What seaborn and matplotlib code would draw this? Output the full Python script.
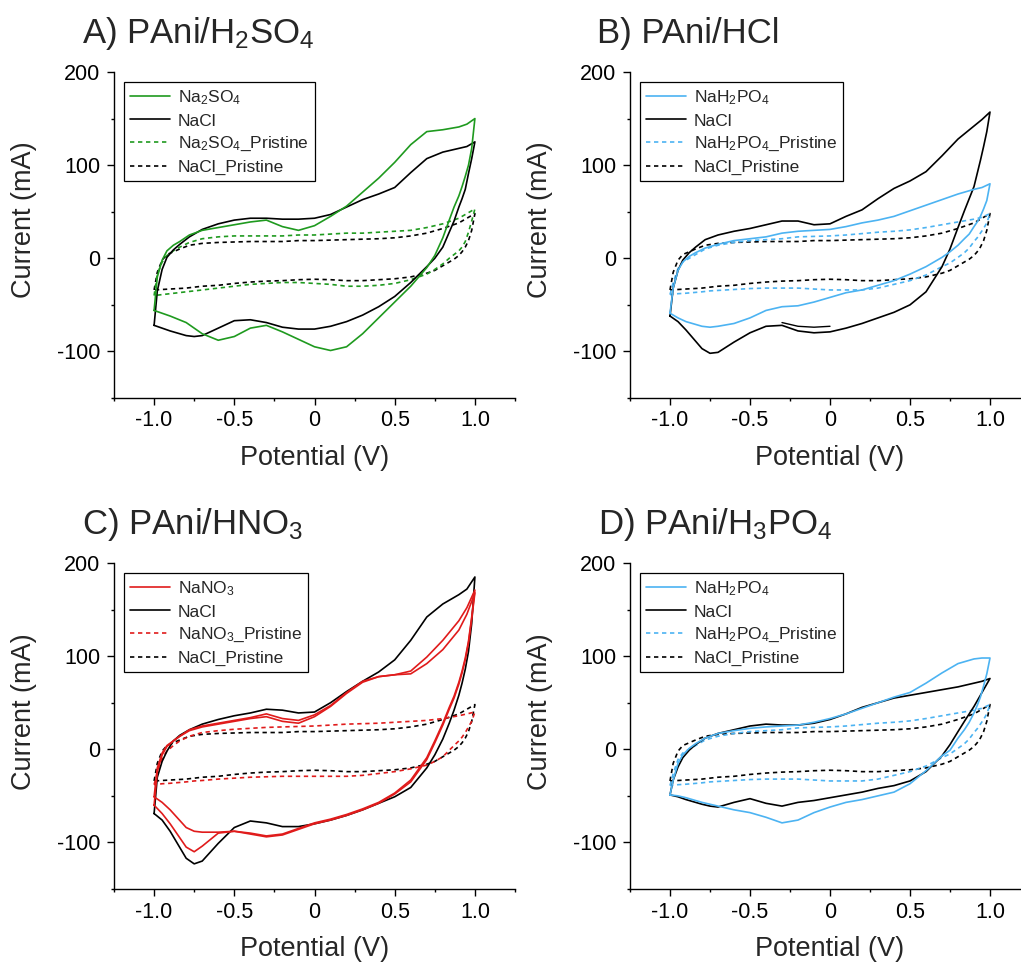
import numpy as np
import pandas as pd
import matplotlib
matplotlib.use("Agg")
import matplotlib.pyplot as plt
import seaborn as sns
from matplotlib.lines import Line2D

# ---------------- data (potential grids, V) ----------------
GRID_UP = [-1.0, -0.98, -0.95, -0.92, -0.88, -0.84, -0.78, -0.7, -0.6, -0.5, -0.4, -0.3, -0.2,
           -0.1, 0.0, 0.1, 0.2, 0.3, 0.4, 0.5, 0.6, 0.7, 0.8, 0.9, 0.95, 1.0]
GRID_DN = [1.0, 0.98, 0.96, 0.94, 0.92, 0.9, 0.87, 0.84, 0.8, 0.75, 0.7, 0.6, 0.5, 0.4, 0.3, 0.2,
           0.1, 0.0, -0.1, -0.2, -0.3, -0.4, -0.5, -0.6, -0.7, -0.75, -0.8, -0.9, -0.95, -1.0]

# shared NaCl pristine (mA)
NACL_PRIST_UP = [-34, -15, -2, 4, 7, 10, 14, 16, 17, 17.5, 18, 18, 18, 19, 19, 19.5, 20, 20.5, 21,
                 22, 24, 27, 32, 38, 43, 48]
NACL_PRIST_DN = [48, 30, 19, 12, 7, 3, -1, -4, -8, -13, -16, -20, -22, -23, -24, -24, -23, -22.5,
                 -23, -24, -24.5, -25.5, -27, -29, -30, -31, -32, -33, -33.5, -34]

# Panel A: PAni/H2SO4
A_NA2SO4_UP = [-56, -20, -2, 8, 14, 18, 25, 30, 33, 36, 39, 41, 34, 30, 35, 45, 56, 71, 86, 103,
               122, 136, 138, 141, 144, 150]
A_NA2SO4_DN = [150, 118, 100, 88, 77, 67, 55, 41, 22, 3, -10, -30, -47, -64, -81, -95, -99, -95,
               -87, -79, -72, -75, -84, -88, -81, -75, -69, -62, -59, -56]
A_NACL_UP = [-72, -35, -12, 1, 9, 15, 23, 31, 37, 41, 43, 43, 42, 42, 43, 47, 55, 63, 69, 76, 92,
             107, 114, 118, 120, 125]
A_NACL_DN = [125, 107, 91, 74, 64, 55, 40, 28, 12, 0, -9, -26, -41, -52, -61, -68, -73, -76, -76,
             -74, -69, -66, -67, -75, -83, -84, -83, -78, -75, -72]
A_NA2SO4_PRIST_UP = [-40, -17, -4, 3, 8, 12, 17, 21, 23, 24, 24, 24, 24, 25, 25, 26, 27, 27, 28,
                     29, 30, 33, 37, 43, 48, 53]
A_NA2SO4_PRIST_DN = [53, 40, 28, 18, 12, 8, 4, 0, -6, -12, -17, -23, -27, -29, -30, -30, -28, -27,
                     -26, -26, -27, -28, -30, -32, -34, -35, -36, -38, -39, -40]

# Panel B: PAni/HCl
B_NAH2PO4_UP = [-59, -32, -13, -4, 2, 6, 11, 15, 19, 21, 23, 27, 29, 30, 31, 34, 38, 41, 45, 51,
                57, 63, 69, 74, 76, 80]
B_NAH2PO4_DN = [80, 62, 53, 45, 39, 34, 26, 21, 14, 7, 1, -9, -17, -24, -29, -34, -37, -42, -47,
                -51, -52, -56, -64, -70, -73, -74, -73, -68, -64, -59]
B_NACL_UP = [-62, -32, -13, -2, 6, 12, 20, 25, 29, 32, 36, 40, 40, 36, 37, 45, 52, 64, 75, 83, 93,
             110, 128, 142, 149, 157]
B_NACL_DN = [157, 136, 120, 105, 91, 77, 64, 51, 33, 10, -9, -36, -50, -58, -64, -70, -75, -79,
             -80, -78, -72, -73, -80, -90, -101, -102, -97, -77, -68, -62]
B_NACL_START_V = [0.0, -0.1, -0.2, -0.3]
B_NACL_START_I = [-73, -74, -73, -69]
B_NAH2PO4_PRIST_UP = [-39, -26, -11, -4, 0, 4, 10, 14, 17, 19, 20, 21, 23, 23.5, 24, 25, 26.5, 28,
                      29, 30.5, 33, 36, 39, 42, 44, 48]
B_NAH2PO4_PRIST_DN = [48, 38, 32, 27, 22, 18, 11, 6, 1, -5, -9, -18, -24, -28, -32, -34, -34, -34,
                      -33, -32, -32, -32, -32.5, -33.5, -34.5, -35, -36, -37.5, -38, -39]

# Panel C: PAni/HNO3
C_NANO3_UP_1 = [-60, -24, -6, 3, 9, 14, 21, 25, 28, 31, 34, 38, 33, 31, 37, 47, 61, 73, 78, 80,
                84, 99, 117, 138, 152, 171]
C_NANO3_DN_1 = [171, 142, 116, 98, 84, 72, 57, 45, 28, 9, -9, -33, -47, -57, -64, -70, -75, -79,
                -85, -91, -93, -90, -88, -90, -104, -110, -105, -80, -69, -60]
C_NANO3_UP_2 = [-51, -20, -4, 4, 9, 14, 20, 24, 27, 30, 33, 35, 30, 28, 35, 46, 60, 72, 78, 80,
                81, 92, 107, 128, 145, 168]
C_NANO3_DN_2 = [168, 140, 114, 96, 82, 70, 55, 43, 26, 7, -11, -35, -48, -58, -65, -71, -76, -80,
                -86, -92, -94, -91, -88, -89, -89, -88, -84, -65, -57, -51]
C_NACL_UP = [-69, -30, -13, -2, 9, 15, 21, 27, 32, 36, 39, 43, 42, 39, 40, 50, 62, 73, 83, 96,
             117, 142, 156, 166, 172, 185]
C_NACL_DN = [185, 135, 105, 86, 71, 58, 42, 28, 11, -6, -20, -41, -51, -58, -65, -71, -76, -80,
             -83, -83, -79, -77, -84, -101, -120, -123, -117, -88, -76, -69]
C_NANO3_PRIST_UP = [-38, -25, -10, -2, 4, 9, 14, 18, 20, 21.5, 22.5, 23.5, 24, 24.5, 25, 26, 27,
                    27.5, 28, 29, 30, 31, 33, 36, 38, 40]
C_NANO3_PRIST_DN = [40, 30, 24, 18, 13, 9, 4, -1, -8, -13, -17, -21, -24, -26, -28, -29, -29, -29,
                    -29, -29, -29.5, -30, -31, -32, -33.5, -34, -35, -36.5, -37, -38]

# Panel D: PAni/H3PO4
D_NAH2PO4_UP = [-49, -33, -15, -6, 1, 6, 12, 17, 20, 22.5, 24, 25, 26, 29, 33, 38, 44, 50, 56, 61,
                71, 82, 92, 97, 98, 98]
D_NAH2PO4_DN = [98, 81, 68, 56, 47, 39, 29, 21, 12, -1, -7, -23, -37, -46, -50, -54, -57, -62, -68,
                -76, -79, -73, -68, -65, -61, -59, -57, -52, -50, -49]
D_NACL_UP = [-49, -33, -19, -9, -1, 5, 12, 17, 21, 25, 27, 26, 26, 28, 32, 38, 45, 50, 55, 58, 61,
             64, 67, 71, 73, 76]
D_NACL_DN = [76, 70, 64, 58, 52, 46, 38, 30, 19, 5, -7, -24, -34, -39, -42, -46, -49, -52, -55,
             -57, -61, -58, -53, -57, -62, -61, -59, -54, -51, -49]

TITLES = ["A) PAni/H$_2$SO$_4$", "B) PAni/HCl", "C) PAni/HNO$_3$", "D) PAni/H$_3$PO$_4$"]
SALTS = ["Na$_2$SO$_4$", "NaH$_2$PO$_4$", "NaNO$_3$", "NaH$_2$PO$_4$"]
X_TICKS = [-1.0, -0.5, 0.0, 0.5, 1.0]
X_TICKLABELS = ["-1.0", "-0.5", "0", "0.5", "1.0"]
X_MINOR = [-1.25, -0.75, -0.25, 0.25, 0.75, 1.25]
Y_TICKS = [-100, 0, 100, 200]
Y_TICKLABELS = ["-100", "0", "100", "200"]
Y_MINOR = [-150, -50, 50, 150]

GREEN = "#1f9a1f"
RED = "#e01b1b"
BLUE = "#4cb3f2"
BLACK = "#000000"
DASH = (0, (2.6, 2.2))

# ---------------- style ----------------
sns.set_theme(style="ticks")
plt.rcParams.update({
    "font.family": ["Liberation Sans", "DejaVu Sans"],
    "mathtext.default": "regular",
    "axes.unicode_minus": False,
})

W, H = 1021, 966
fig = plt.figure(figsize=(W / 100, H / 100), dpi=100)


def make_axes(left, top, right, bottom):
    return fig.add_axes([left / W, 1 - bottom / H, (right - left) / W, (bottom - top) / H])


def loop(ax, up, dn, color, ls="-", lw=1.1):
    df = pd.DataFrame({"V": GRID_UP + GRID_DN, "I": list(up) + list(dn)})
    sns.lineplot(data=df, x="V", y="I", ax=ax, sort=False, estimator=None,
                 color=color, linestyle=ls, linewidth=lw, legend=False)


panels = [
    dict(box=(114, 72, 515, 398), color=GREEN,
         salt=[(A_NA2SO4_UP, A_NA2SO4_DN)], nacl=[(A_NACL_UP, A_NACL_DN)],
         sp=(A_NA2SO4_PRIST_UP, A_NA2SO4_PRIST_DN)),
    dict(box=(630, 72, 1030, 398), color=BLUE,
         salt=[(B_NAH2PO4_UP, B_NAH2PO4_DN)], nacl=[(B_NACL_UP, B_NACL_DN)],
         sp=(B_NAH2PO4_PRIST_UP, B_NAH2PO4_PRIST_DN)),
    dict(box=(114, 563, 515, 889), color=RED,
         salt=[(C_NANO3_UP_1, C_NANO3_DN_1), (C_NANO3_UP_2, C_NANO3_DN_2)],
         nacl=[(C_NACL_UP, C_NACL_DN)],
         sp=(C_NANO3_PRIST_UP, C_NANO3_PRIST_DN)),
    dict(box=(630, 563, 1030, 889), color=BLUE,
         salt=[(D_NAH2PO4_UP, D_NAH2PO4_DN)], nacl=[(D_NACL_UP, D_NACL_DN)],
         sp=(B_NAH2PO4_PRIST_UP, B_NAH2PO4_PRIST_DN)),
]

title_pos = [(82, 43), (597, 43), (82, 534), (598, 534)]
ylabel_pos = [(24, 220), (540, 220), (24, 712), (540, 712)]
xlabel_pos = [(315, 465), (830, 465), (315, 956), (830, 956)]

for k, p in enumerate(panels):
    l, t, r, b = p["box"]
    ax = make_axes(l, t, r, b)
    ax.set_facecolor("none")
    c = p["color"]
    loop(ax, NACL_PRIST_UP, NACL_PRIST_DN, BLACK, DASH, 1.2)
    loop(ax, p["sp"][0], p["sp"][1], c, DASH, 1.2)
    for up, dn in p["nacl"]:
        loop(ax, up, dn, BLACK, "-", 1.2)
    if k == 1:
        sns.lineplot(x=B_NACL_START_V, y=B_NACL_START_I, ax=ax, sort=False, estimator=None,
                     color=BLACK, linewidth=1.0, legend=False)
    for up, dn in p["salt"]:
        loop(ax, up, dn, c, "-", 1.2)

    ax.set_xlim(-1.25, 1.25)
    ax.set_ylim(-150, 200)
    ax.set_xlabel("")
    ax.set_ylabel("")
    for s in ["top", "right"]:
        ax.spines[s].set_visible(False)
    for s in ["left", "bottom"]:
        ax.spines[s].set_linewidth(1.0)
        ax.spines[s].set_color("black")
    ax.set_xticks(X_TICKS)
    ax.set_xticklabels(X_TICKLABELS)
    ax.set_xticks(X_MINOR, minor=True)
    ax.set_yticks(Y_TICKS)
    ax.set_yticklabels(Y_TICKLABELS)
    ax.set_yticks(Y_MINOR, minor=True)
    ax.tick_params(which="major", direction="out", length=5, width=1.0, labelsize=15.5,
                   color="black", labelcolor="black")
    ax.tick_params(axis="x", which="major", pad=4)
    ax.tick_params(axis="y", which="major", pad=5)
    ax.tick_params(which="minor", direction="out", length=2.5, width=1.0, color="black")

    handles = [
        Line2D([], [], color=c, lw=1.2),
        Line2D([], [], color=BLACK, lw=1.2),
        Line2D([], [], color=c, lw=1.2, linestyle=DASH),
        Line2D([], [], color=BLACK, lw=1.2, linestyle=DASH),
    ]
    labels = [SALTS[k], "NaCl", SALTS[k] + "_Pristine", "NaCl_Pristine"]
    leg = ax.legend(handles, labels, loc="upper left",
                    bbox_to_anchor=(10 / 401, 1 - 10 / 326), borderaxespad=0,
                    fontsize=12.5, frameon=True, fancybox=False, handlelength=2.3,
                    handletextpad=0.45, labelspacing=0.38, borderpad=0.35)
    fr = leg.get_frame()
    fr.set_edgecolor("black")
    fr.set_linewidth(0.9)
    fr.set_alpha(1)

    tx, ty = title_pos[k]
    fig.text(tx / W, 1 - ty / H, TITLES[k], fontsize=25, ha="left", va="baseline")
    yx, yy = ylabel_pos[k]
    fig.text(yx / W, 1 - yy / H, "Current (mA)", fontsize=19.5, rotation=90,
             ha="center", va="center")
    xx, xy = xlabel_pos[k]
    fig.text(xx / W, 1 - xy / H, "Potential (V)", fontsize=19.5, ha="center", va="baseline")

fig.savefig("out.png", dpi=100, facecolor="white")
